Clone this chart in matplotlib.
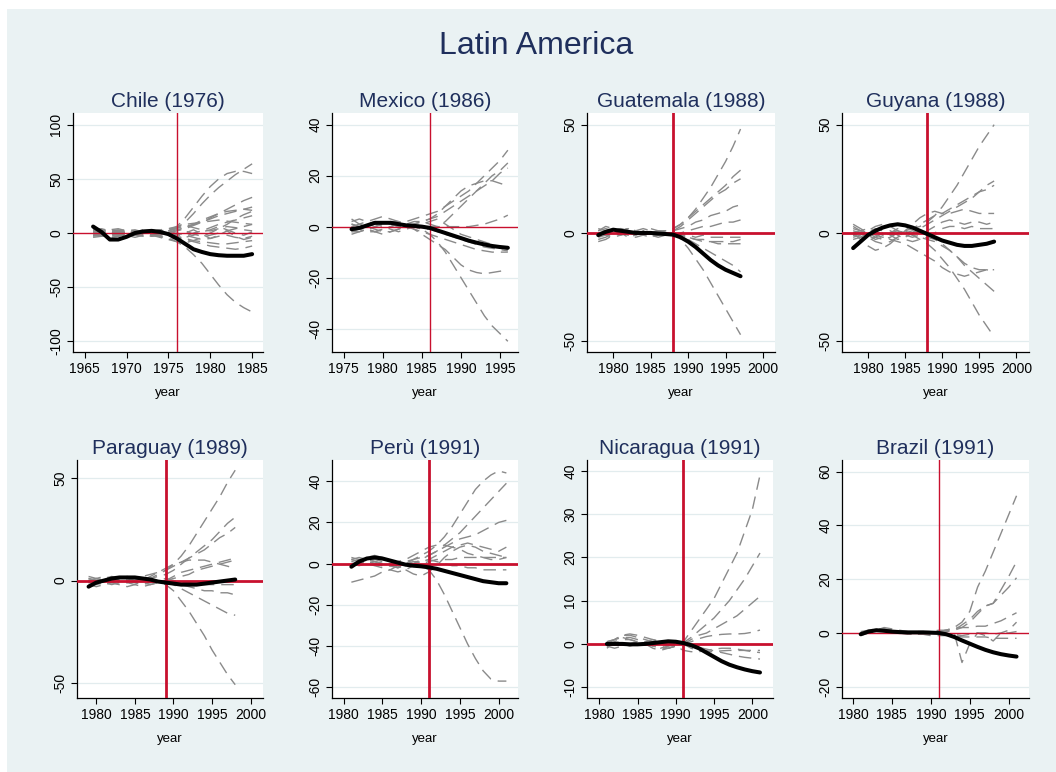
import matplotlib
matplotlib.use('Agg')
import matplotlib.pyplot as plt
from matplotlib.patches import Rectangle

plt.rcParams['font.family'] = ['Liberation Sans', 'DejaVu Sans']
plt.rcParams['lines.scale_dashes'] = False

# ---- data -------------------------------------------------------------
panel_titles = ['Chile (1976)', 'Mexico (1986)', 'Guatemala (1988)', 'Guyana (1988)',
                'Paraguay (1989)', 'Perù (1991)', 'Nicaragua (1991)', 'Brazil (1991)']
treat_years = [1976, 1986, 1988, 1988, 1989, 1991, 1991, 1991]
first_years = [1966, 1976, 1978, 1978, 1979, 1981, 1981, 1981]

# treated unit (black line)
chile = [6, 1, -6, -6, -3.5, 0, 1.5, 2, 1, -1, -5, -10, -15, -17.5, -19.5, -20.5, -21, -21, -21, -19.5]
mexico = [-1, -0.5, 0.5, 1.5, 1.5, 1.5, 1, 0.5, 0.3, 0, -0.5, -1.5, -2.5, -3.5, -4.5, -5.5, -6.3, -7, -7.6, -8, -8.3]
guatemala = [-1, 0.5, 1.5, 1, 0.5, 0, 0, 0, -0.3, -0.5, -0.8, -2, -4, -6.5, -9.5, -12.5, -15, -17, -18.5, -20]
guyana = [-7, -4, -1, 1, 2.5, 3.5, 4, 3.5, 2.5, 1, -0.5, -2, -3.5, -4.5, -5.5, -6, -6, -5.5, -5, -4]
paraguay = [-3, -1, 0, 1, 1.5, 1.5, 1.5, 1, 0.5, -0.5, -1, -1.5, -2, -2, -2, -1.5, -1, -0.5, 0, 0.5]
peru = [-1.5, 1, 2.5, 3, 2.5, 1.5, 0.5, -0.5, -1, -1.3, -1.8, -2.5, -3.5, -4.5, -5.5, -6.5, -7.5, -8.5, -9, -9.5, -9.5]
nicaragua = [0, 0, 0, -0.1, -0.1, 0, 0.2, 0.4, 0.6, 0.5, 0.2, -0.3, -1, -2, -3, -4, -4.8, -5.4, -5.9, -6.3, -6.6]
brazil = [-0.5, 0.5, 1, 0.8, 0.5, 0.3, 0.2, 0.2, 0.2, 0.1, 0, -0.5, -1.5, -2.8, -4, -5.2, -6.3, -7.2, -7.9, -8.4, -8.8]

# placebo units (gray dashed)
chile_placebo = [
    [0, 1, 2, 1, 0, -1, 0, 1, 2, 3, 5, 10, 18, 27, 35, 42, 48, 54, 59, 64],
    [0, -1, 0, 1, 0, 1, 0, -1, 0, 2, 6, 14, 24, 34, 43, 50, 55, 57, 57, 55],
    [2, 1, 0, -1, 0, 1, 0, -2, -3, -5, -8, -13, -20, -28, -38, -48, -57, -64, -69, -73],
    [3, 4, 2, -1, -3, -2, 0, 2, 3, 4, 5, 6, 8, 10, 14, 18, 22, 26, 30, 33],
    [-2, -3, -1, 1, 2, 1, -1, -3, -2, 0, 2, 4, 7, 10, 13, 16, 18, 20, 22, 24],
    [1, 0, -2, -3, -1, 1, 2, 1, 0, -2, -4, -6, -8, -10, -12, -13, -14, -15, -14, -12],
    [-3, -2, 0, 2, 3, 2, 0, -2, -4, -6, -5, -3, 0, 2, 5, 8, 10, 12, 14, 16],
    [2, 3, 1, -1, -2, 0, 2, 3, 1, -1, -3, -5, -7, -8, -9, -10, -10, -9, -8, -7],
    [0, -2, -4, -3, -1, 0, 1, -1, -3, -6, -8, -9, -7, -4, -2, 0, 2, 4, 6, 8],
    [-1, 0, 2, 3, 1, -1, -2, 0, 2, 4, 6, 8, 9, 10, 11, 12, 11, 10, 9, 8],
    [4, 2, 0, -2, -1, 1, 3, 2, 0, 2, 5, 7, 5, 3, 2, 4, 6, 5, 3, 2],
    [-4, -3, -1, 0, 2, 3, 1, -1, -2, -1, 0, -2, -4, -6, -5, -3, -2, -4, -5, -3],
    [1, 2, 3, 2, 0, -2, -3, -2, 0, 1, 3, 5, 8, 12, 15, 18, 20, 21, 22, 21],
    [0, 1, -1, -2, 0, 2, 1, -1, 0, 3, -1, -4, -2, 1, 3, 6, 3, 0, -2, 1],
    [5, 3, 1, 0, -2, -4, -2, 1, 3, 1, -2, 0, 3, -1, -5, -2, 2, -3, -6, -4],
    [-2, 0, 3, 4, 2, 0, -1, -3, -1, 2, 4, 2, -1, -3, 0, 4, 8, 13, 17, 20],
]
mexico_placebo = [
    [0, -1, -2, -2, -1, 0, 1, 2, 3, 4, 5, 6, 8, 10, 12, 14, 17, 20, 23, 26, 30],
    [1, 0, -1, -2, -1, 0, 1, 1, 2, 2, 1, 0, 2, 5, 8, 11, 14, 17, 20, 22, 25],
    [-2, -1, 0, 1, 2, 1, 0, 0, 1, 2, 3, 4, 6, 8, 10, 12, 14, 16, 18, 21, 23],
    [0, 1, 2, 3, 4, 3, 2, 1, 1, 2, 3, 5, 8, 11, 14, 16, 17, 18, 18, 17, 16],
    [1, 0, -1, 0, 1, 1, 0, 0, 0, 0, 0, 0, 0, 0, 0, 0, 0.5, 1, 2, 3, 4.5],
    [3, 1, 0, -1, -2, -2, -1, 0, 0, -1, -3, -6, -10, -15, -20, -25, -30, -35, -39, -42, -45],
    [-3, -2, -1, 0, 1, 2, 2, 1, -1, -3, -5, -7, -9, -12, -15, -17, -18, -18.5, -18, -17.5, -17],
    [-1, 0, 1, 2, 1, 1, 1, 0, 0, -1, -1, -2, -3, -4, -5, -6, -7, -8, -8.5, -9, -9.5],
    [-2, -2, -1, -2, -3, -2, -1, 0, -1, -2, -3, -4, -5, -6, -7, -8, -9, -9.5, -10, -10, -10],
    [2, 3, 2, 1, 0, -1, -2, -1, 0, 1, 2, 3, 1, -1, -3, -4, -5, -6, -7, -8, -9],
]
guatemala_placebo = [
    [0, -1, -2, -1, 0, 1, 0, -1, 0, 1, 2, 4, 7, 11, 16, 21, 27, 33, 40, 48],
    [-2, -1, 1, 2, 1, 0, -1, 0, 1, 1, 2, 4, 7, 10, 13, 16, 19, 22, 26, 29],
    [1, 2, 1, 0, -1, -1, 0, 1, 0, 0, 1, 3, 6, 9, 12, 15, 18, 20, 23, 25],
    [-3, -2, 0, 1, 2, 1, 0, -1, -1, 0, 1, 2, 3, 5, 6, 8, 9, 10, 12, 13],
    [0, 1, 2, 1, -1, -2, -1, 0, 1, 0, -1, 0, 1, 2, 3, 3, 4, 5, 5, 6],
    [2, 1, 0, -1, 0, 1, 2, 1, 0, -1, 0, -1, -1, -2, -1, -2, -2, -2, -2, -2],
    [-4, -3, -1, 1, 2, 1, 0, -1, -2, -1, 0, -1, -2, -3, -4, -4, -5, -5, -5, -5],
    [1, 3, 2, 0, -2, -1, 1, 2, 1, 0, -1, -2, -3, -5, -7, -9, -11, -13, -15, -18],
    [0, -1, 0, 1, 2, 0, -1, -2, -1, 0, 1, -3, -7, -12, -17, -23, -29, -35, -41, -47],
    [-1, 0, 1, 2, 1, 0, -1, 0, 1, 0, -1, -1, -2, -3, -3, -4, -4, -4, -4, -3],
]
guyana_placebo = [
    [2, 1, 0, -1, -2, -1, 0, 1, 2, 3, 5, 8, 12, 17, 22, 28, 34, 40, 45, 50],
    [-3, -2, 0, 2, 1, -1, -3, -2, 0, 2, 4, 6, 8, 10, 12, 14, 16, 19, 22, 24],
    [4, 2, 0, -2, -3, -2, 0, 1, 2, 4, 6, 8, 9, 11, 13, 15, 17, 19, 20, 22],
    [0, -3, -6, -8, -7, -5, -2, 1, 4, 7, 9, 10, 9, 9, 10, 11, 10, 9, 9, 9],
    [-2, -1, 1, 3, 4, 3, 1, -1, -2, -1, 1, 3, 5, 6, 5, 4, 5, 5, 4, 5],
    [1, 0, -2, -4, -5, -4, -2, 0, 1, 0, -1, 0, 2, 3, 3, 2, 3, 2, 2, 2],
    [-1, -2, -3, -2, 0, 1, -1, -3, -4, -3, -2, -3, -5, -8, -11, -14, -16, -17, -17, -17],
    [3, 1, -1, -3, -2, 0, 2, 1, -1, -2, -3, -4, -6, -8, -11, -15, -18, -21, -24, -27],
    [0, 1, 2, 1, -1, -3, -4, -5, -7, -9, -11, -13, -16, -18, -19, -20, -19, -18, -17, -18],
    [-1, 0, 1, 0, -1, 0, 1, 0, -1, -3, -5, -8, -12, -16, -21, -26, -32, -38, -43, -48],
]
paraguay_placebo = [
    [0, -1, -2, -1, 0, 1, 1, 0, 1, 3, 5, 8, 12, 17, 23, 29, 35, 41, 48, 54],
    [-1, 0, 1, 2, 1, 0, -1, 0, 1, 2, 3, 5, 8, 11, 14, 17, 20, 24, 28, 31],
    [1, 0, -1, -2, -1, 0, 1, 2, 3, 4, 5, 7, 9, 11, 13, 15, 18, 21, 23, 26],
    [0, 1, 0, -1, -2, -3, -2, 0, 2, 4, 6, 8, 9, 10, 10, 10, 9, 8, 7, 6],
    [-2, -3, -2, -1, 0, 1, 0, -1, -2, -1, 0, 2, 4, 5, 6, 7, 8, 9, 10, 11],
    [2, 1, 0, -1, -2, -1, 0, 1, 0, -1, 0, 1, 2, 3, 5, 6, 7, 8, 9, 10],
    [-1, -2, -1, 0, 1, 2, 1, 0, -1, 0, 1, 0, -1, -1, -2, -2, -2, -2, -2, -2],
    [0, 1, 2, 1, 0, -1, -2, -3, -2, -1, 0, -1, -2, -3, -4, -5, -5, -6, -6, -7],
    [1, 0, -1, 0, 1, 0, -1, -2, -1, 0, -1, -2, -4, -6, -8, -10, -12, -14, -16, -17],
    [-1, 0, 1, 1, 0, -1, 0, 1, 0, -1, -2, -5, -10, -15, -21, -27, -34, -40, -46, -51],
]
peru_placebo = [
    [0, 1, 2, 1, 0, -1, -2, 0, 2, 4, 6, 9, 13, 18, 24, 30, 36, 40, 43, 45, 44],
    [2, 3, 2, 1, 0, -1, 0, 1, 2, 3, 4, 6, 9, 12, 15, 19, 23, 27, 31, 35, 39],
    [-1, 0, 1, 2, 1, 0, -1, -2, 0, 2, 4, 6, 8, 10, 12, 13, 14, 16, 18, 20, 21],
    [-9, -8, -7, -6, -4, -3, -1, 0, 1, 1, 2, 4, 6, 8, 9, 10, 9, 8, 7, 6, 8],
    [1, 2, 3, 4, 3, 1, -1, -3, -5, -6, -4, -1, 3, 6, 8, 9, 8, 6, 5, 4, 3],
    [3, 2, 1, 0, -1, 0, 1, 2, 4, 6, 8, 9, 9, 8, 7, 5, 4, 3, 2, 2, 3],
    [0, -1, 0, 1, 0, -1, -2, -1, 0, 1, 2, 1, 0, -1, -1, -2, -2, -3, -3, -3, -3],
    [-1, 0, 1, 0, -1, -1, 0, 1, 0, -1, -3, -8, -15, -23, -31, -39, -46, -52, -56, -57, -57],
    [2, 1, 0, -1, -2, -3, -4, -3, -1, 0, 1, 2, 2, 2, 3, 3, 3, 3, 3, 3, 3],
]
nicaragua_placebo = [
    [-1, 0.5, 1.5, 1, 0.5, 0, -0.5, -1, -0.5, 0, 0.5, 3, 5.5, 8, 10.5, 14, 17.5, 21, 26, 31, 39],
    [0, 1, 2, 2, 1.5, 1, 0.5, 0, -0.5, 0, 0.3, 1.5, 3, 4.5, 6, 8, 10, 12.5, 15, 18, 21],
    [0.5, 1, 1.5, 1.5, 1, 0.5, -0.5, -1, -1, -0.5, 0, 1, 2, 2.5, 3.5, 4.5, 5.5, 6.5, 8, 9.5, 11],
    [-0.5, 0, 1, 1, 0.5, 0, 0, -0.5, -1, -0.5, 0, 0.5, 1.2, 1.7, 2, 2.2, 2.3, 2.3, 2.4, 2.7, 3.2],
    [0, 0.5, 0, -0.5, 0, 0.5, 1, 0.5, 0, -0.5, 0, -1, -1.5, -1.8, -1.8, -1.6, -1.5, -1.5, -1.5, -1.5, -1.5],
    [0.5, 1, 2, 2.3, 2, 1.5, 1, 0.5, 0, -0.3, -0.3, -0.5, -0.8, -1.2, -1.6, -2, -2.4, -2.8, -3.1, -3.3, -3.5],
    [-0.5, -1, -0.5, 0, 0.5, 0, -1, -1.5, -1, -0.5, -1.5, -1.8, -1.8, -1.5, -1.2, -1, -1, -1.2, -1.5, -1.8, -2],
]
brazil_placebo = [
    [0, 1, 1.5, 1, 0.5, 0, 0, 0.5, 0.5, 0, 0.5, 1, 2, 4, 8, 17, 23, 30, 37, 44, 51],
    [-0.5, 0.5, 1, 1.5, 1, 0.5, 0, -0.5, -0.5, 0, 0.5, 1, 1, 2, 4, 7, 10, 11, 16, 21, 26.5],
    [0, 0.5, 1.5, 1.5, 1, 0.5, 0.5, 0, 0, -0.5, 0, 0.5, 1, 3, 5, 8, 10, 11, 14, 17, 20.5],
    [-1, 0, 0.5, 1, 1, 0.5, 0, 0, 0, 0, 0.5, 1, 2, 2, 2, 2.5, 2.5, 3.5, 4.5, 6, 7.5],
    [0.5, 1, 1, 0.5, 0, 0, -0.5, -0.5, 0, 0.5, 0, -0.5, -0.5, -1, -0.5, 0, 0, -0.5, 0, 1, 4],
    [0, 0, 0.5, 1, 1.5, 1, 0.5, 0, -0.5, -1, -1, -1, -1, -1.5, -1.5, -1.5, -1.5, -2, -2, -2, -2],
    [-0.5, 0, 1, 2, 1.5, 0.5, 0, 0, 0.5, 0.5, 1, 1, 0, -11, -4, 0, -1, -3, 0, 0, 0.5],
]

treated = [chile, mexico, guatemala, guyana, paraguay, peru, nicaragua, brazil]
placebos = [chile_placebo, mexico_placebo, guatemala_placebo, guyana_placebo,
            paraguay_placebo, peru_placebo, nicaragua_placebo, brazil_placebo]

y_ticks = [[-100, -50, 0, 50, 100], [-40, -20, 0, 20, 40], [-50, 0, 50], [-50, 0, 50],
           [-50, 0, 50], [-60, -40, -20, 0, 20, 40], [-10, 0, 10, 20, 30, 40], [-20, 0, 20, 40, 60]]
x_ticks = [[1965, 1970, 1975, 1980, 1985], [1975, 1980, 1985, 1990, 1995]] + \
          [[1980, 1985, 1990, 1995, 2000]] * 6

# ---- layout / style ---------------------------------------------------
W, H = 1056, 772
bg = '#eaf2f3'
navy = '#1f2f5c'
red = '#c8102e'
gray = '#8a8a8a'

# plot boxes in pixels: left, right, top, bottom
boxes = [(73, 263, 113, 352), (332, 518, 113, 352), (587, 775, 113, 352), (842, 1029, 113, 352),
         (77, 263, 460, 698), (332, 518, 460, 698), (587, 773, 460, 698), (842, 1029, 460, 698)]
xlims = [(1963.6, 1986.3), (1973.5, 1997.3), (1976.5, 2001.6), (1976.5, 2001.7),
         (1977.5, 2001.6), (1978.5, 2002.5), (1978.4, 2002.7), (1978.6, 2002.6)]
ylims = [(-110, 111), (-49.2, 44.6), (-55, 55.4), (-55, 55.4),
         (-57.5, 59), (-65.2, 50.3), (-12.5, 42.5), (-24.2, 64.3)]
red_w = [1.0, 1.0, 2.0, 2.0, 2.0, 2.0, 2.0, 1.0]

fig = plt.figure(figsize=(W / 100, H / 100), dpi=100)
fig.patch.set_facecolor('white')
fig.patches.append(Rectangle((7 / W, 0), 1, 1 - 9 / H, transform=fig.transFigure,
                             facecolor=bg, edgecolor='none', zorder=-5))

fig.text(536 / W, 1 - 46 / H, 'Latin America', ha='center', va='center',
         fontsize=23, color=navy)

for i in range(8):
    l, r, t, b = boxes[i]
    ax = fig.add_axes([l / W, 1 - b / H, (r - l) / W, (b - t) / H])
    ax.set_facecolor('white')
    years = list(range(first_years[i], first_years[i] + len(treated[i])))

    for yt in y_ticks[i]:
        if yt != 0:
            ax.axhline(yt, color='#e2ecee', lw=0.9, zorder=1)

    for p in placebos[i]:
        ax.plot(years, p, color=gray, lw=1.0, dashes=(9, 5), zorder=2)

    ax.axhline(0, color=red, lw=red_w[i], zorder=3)
    ax.axvline(treat_years[i], color=red, lw=red_w[i], zorder=3)
    ax.plot(years, treated[i], color='black', lw=2.9, zorder=4, solid_capstyle='round')

    ax.set_xlim(xlims[i])
    ax.set_ylim(ylims[i])
    ax.set_xticks(x_ticks[i])
    ax.set_yticks(y_ticks[i])
    ax.set_yticklabels([str(v) for v in y_ticks[i]], rotation=90, va='center')
    ax.tick_params(labelsize=10, length=4, width=0.8, pad=3)
    for s in ['top', 'right']:
        ax.spines[s].set_visible(False)
    for s in ['left', 'bottom']:
        ax.spines[s].set_linewidth(0.9)
    ax.set_title(panel_titles[i], fontsize=15, color=navy, pad=4)
    ax.set_xlabel('year', fontsize=9.5, labelpad=8)

fig.savefig('out.png', dpi=100, facecolor=fig.get_facecolor())
